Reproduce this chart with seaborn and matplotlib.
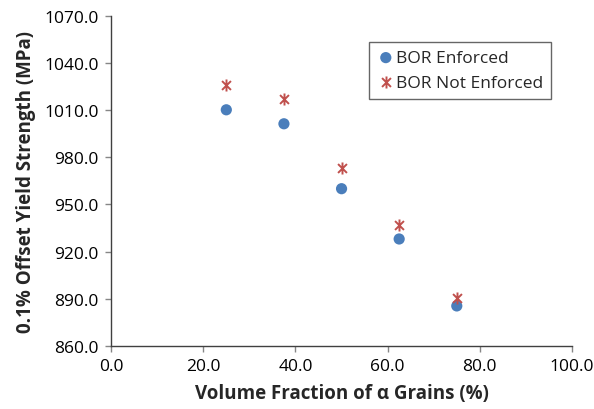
import matplotlib
matplotlib.use("Agg")
import matplotlib.pyplot as plt
from matplotlib.path import Path
import pandas as pd
import seaborn as sns

# values
alpha_fraction = [25.0, 37.5, 50.0, 62.5, 75.0]
bor_enforced = [1010.2, 1001.3, 960.0, 928.0, 885.4]
bor_not_enforced = [1026.0, 1017.0, 973.3, 937.0, 890.5]
series_names = ["BOR Enforced", "BOR Not Enforced"]
x_ticks = [0, 20, 40, 60, 80, 100]
y_ticks = [860, 890, 920, 950, 980, 1010, 1040, 1070]

df = pd.DataFrame({
    "frac": alpha_fraction * 2,
    "ys": bor_enforced + bor_not_enforced,
    "series": [series_names[0]] * 5 + [series_names[1]] * 5,
})

# excel style asterisk: an x with a vertical bar through it
star = Path(
    [(-1, -1), (1, 1), (-1, 1), (1, -1), (0, -1.35), (0, 1.35)],
    [Path.MOVETO, Path.LINETO, Path.MOVETO, Path.LINETO, Path.MOVETO, Path.LINETO],
)

sns.set_style("white")
plt.rcParams["font.family"] = ["Open Sans", "DejaVu Sans"]

fig = plt.figure(figsize=(5.94, 4.10), dpi=100)
ax = fig.add_axes([0.187, 0.154, 0.776, 0.805])

blue = "#4a7ebb"
red = "#c0504d"

sns.scatterplot(data=df[df.series == series_names[0]], x="frac", y="ys",
                color=blue, marker="o", s=65, edgecolor="none",
                label=series_names[0], ax=ax)
sns.scatterplot(data=df[df.series == series_names[1]], x="frac", y="ys",
                color=red, edgecolor=red, marker=star, s=75, linewidth=1.4,
                label=series_names[1], ax=ax)

ax.set_xlim(0, 100)
ax.set_ylim(860, 1070)
ax.set_xticks(x_ticks)
ax.set_yticks(y_ticks)
ax.set_xticklabels([f"{v:.1f}" for v in x_ticks], fontsize=12.5)
ax.set_yticklabels([f"{v:.1f}" for v in y_ticks], fontsize=12.5)
ax.set_xlabel("Volume Fraction of α Grains (%)", fontsize=13.5, fontweight="bold",
              labelpad=6)
ax.set_ylabel("0.1% Offset Yield Strength (MPa)", fontsize=13.5, fontweight="bold",
              labelpad=6)

for side in ["top", "right"]:
    ax.spines[side].set_visible(False)
for side in ["left", "bottom"]:
    ax.spines[side].set_color("#404040")
    ax.spines[side].set_linewidth(1.0)
ax.tick_params(axis="both", direction="out", length=4, width=1,
               color="#868686", bottom=True, left=True, labelcolor="black", pad=5)

leg = ax.legend(loc="upper right", bbox_to_anchor=(0.955, 0.92), fontsize=12.5,
                frameon=True, fancybox=False, handletextpad=0.1,
                borderpad=0.45, labelspacing=0.5, handlelength=1.0,
                borderaxespad=0)
leg.get_frame().set_edgecolor("#404040")
leg.get_frame().set_linewidth(1.0)

fig.savefig("out.png", dpi=100)
